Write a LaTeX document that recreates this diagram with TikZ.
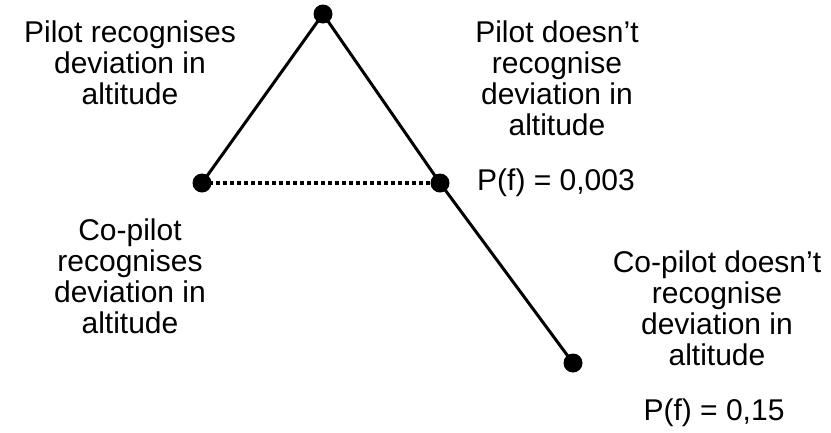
\documentclass[tikz,border=0pt]{standalone}
\usepackage{fontspec}
\setmainfont{Liberation Sans}
\begin{document}
\begin{tikzpicture}[x=1pt,y=-1pt,
  dot/.style={circle,fill=black,inner sep=0pt,minimum size=19pt},
  lbl/.style={align=center,inner sep=0pt,font=\fontsize{30}{31}\selectfont},
  solidline/.style={line width=3pt},
  dotline/.style={line width=4pt,dash pattern=on 4pt off 3pt}]
\useasboundingbox (0,0) rectangle (831,432);
\node[dot] (top) at (323,14) {};
\node[dot] (left) at (202,183) {};
\node[dot] (mid) at (440,183) {};
\node[dot] (bot) at (573,363) {};
\draw[solidline] (top.center) -- (left.center);
\draw[solidline] (top.center) -- (mid.center);
\draw[solidline] (mid.center) -- (bot.center);
\draw[dotline] (left.center) -- (mid.center);
\node[lbl] (t1) at (130,63) {Pilot recognises\\deviation in\\altitude};
\node[lbl] (t2) at (557,78.5) {Pilot doesn’t\\recognise\\deviation in\\altitude};
\node[lbl] (p1) at (556,183) {P(f) = 0,003};
\node[lbl] (t3) at (130,276.5) {Co-pilot\\recognises\\deviation in\\altitude};
\node[lbl] (t4) at (717,308.5) {Co-pilot doesn’t\\recognise\\deviation in\\altitude};
\node[lbl] (p2) at (714,413) {P(f) = 0,15};
\end{tikzpicture}
\end{document}
